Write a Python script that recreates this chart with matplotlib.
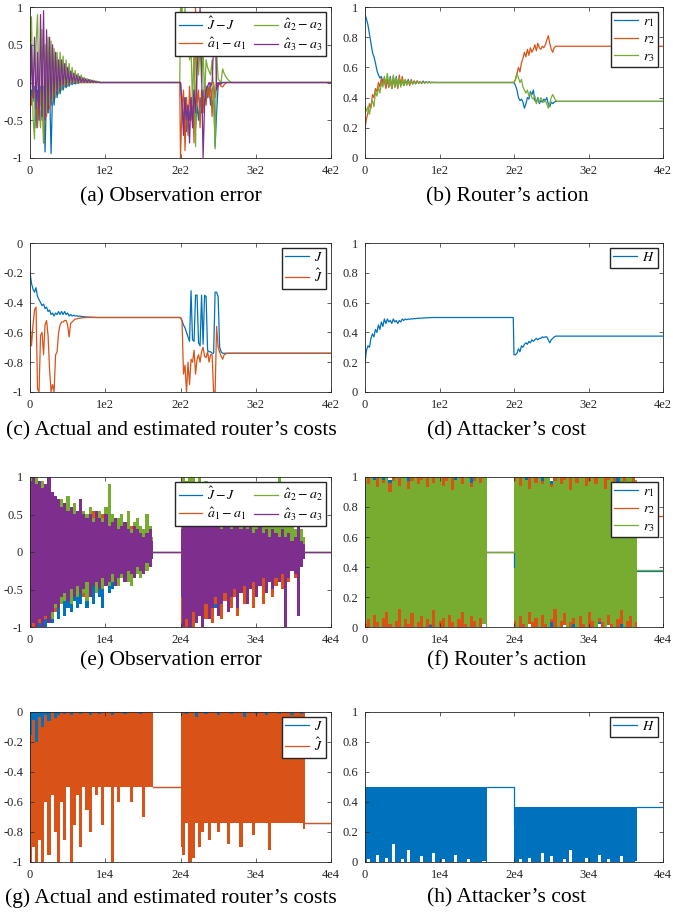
import numpy as np
import matplotlib
matplotlib.use('Agg')
import matplotlib.pyplot as plt

plt.rcParams['font.family'] = ['Liberation Serif', 'DejaVu Serif']
plt.rcParams['mathtext.fontset'] = 'stix'

C_BLUE = '#0072BD'
C_ORANGE = '#D95319'
C_GREEN = '#77AC30'
C_PURPLE = '#7E2F8E'

# ---------------- top panels (iterations 0..400) ----------------
T_A = np.arange(0, 100, 2)      # 50 samples
T_B = np.arange(200, 272, 2)    # 36 samples
X_TOP = np.concatenate([T_A, [100, 199], T_B, [272, 400]])

# (a) observation errors
aJ_1 = [-0.33,-0.10,-0.25,-0.05,-0.60,-0.10,-0.35,-0.05,-0.50,-0.05,
        -0.92,-0.10,-0.40,-0.05,-0.94,-0.10,-0.30,-0.05,-0.20,-0.03,
        -0.15,-0.02,-0.10,-0.02,-0.07,-0.01,-0.05,0.0,-0.03,0.0,
        -0.02,0.0,-0.01,0.0,0.0,0.0,0.0,0.0,0.0,0.0,
        0.0,0.0,0.0,0.0,0.0,0.0,0.0,0.0,0.0,0.0]
aJ_2 = [0.0,-0.30,-0.50,-0.20,-0.65,-0.30,-0.50,-0.20,-0.40,-0.10,
        -0.60,-0.30,-0.50,-0.20,-0.40,-0.10,-0.30,-0.05,-0.20,-0.05,
        -0.30,-0.10,-0.05,-0.85,-0.40,-0.05,0.0,-0.02,0.0,0.0,
        0.0,0.0,0.0,0.0,0.0,0.0]
a1_1 = [-0.05,-0.30,-0.10,-0.20,-0.05,-0.60,0.0,-0.30,-0.05,-0.80,
        0.0,-0.45,-0.05,-0.35,-0.05,-0.20,0.0,-0.10,0.0,-0.05,
        0.0,-0.03,0.0,-0.02,0.0,0.0,0.0,0.0,0.0,0.0,
        0.0,0.0,0.0,0.0,0.0,0.0,0.0,0.0,0.0,0.0,
        0.0,0.0,0.0,0.0,0.0,0.0,0.0,0.0,0.0,0.0]
a1_2 = [-1.00,-0.30,-0.10,-0.90,-0.20,-0.70,-0.05,-0.50,-0.15,-0.80,
        1.00,-0.30,-0.10,-0.60,-0.10,-0.40,0.0,-0.30,-0.05,-0.20,
        0.0,-0.45,0.0,-0.20,0.0,-0.05,0.0,-0.05,-0.06,-0.03,
        -0.01,0.0,0.0,0.0,0.0,0.0]
a2_1 = [0.35,0.87,-0.45,-0.75,0.50,0.90,-0.30,-0.60,0.70,-0.78,
        0.50,-0.40,0.60,-0.30,0.55,-0.25,0.45,-0.20,0.40,-0.15,
        0.40,-0.10,0.35,-0.05,0.30,-0.05,0.25,-0.02,0.20,0.0,
        0.16,0.0,0.12,0.0,0.10,0.0,0.07,0.0,0.05,0.0,
        0.04,0.0,0.03,0.0,0.02,0.0,0.01,0.0,0.0,0.0]
a2_2 = [1.00,1.00,0.45,1.00,0.45,0.90,0.30,0.45,-0.30,0.50,
        -0.85,0.45,0.10,0.50,0.0,0.45,-0.20,0.30,0.20,0.15,
        0.10,0.30,-0.20,-0.88,0.40,0.05,0.02,0.01,0.18,0.12,
        0.08,0.05,0.03,0.01,0.0,0.0]
a3_1 = [-0.55,0.50,-0.20,0.60,-0.35,0.40,-0.50,0.90,-0.45,0.95,
        -0.50,0.70,-0.40,0.60,-0.30,0.50,-0.20,0.40,-0.15,0.30,
        -0.10,0.30,-0.05,0.25,-0.05,0.20,-0.02,0.15,0.0,0.12,
        0.0,0.10,0.0,0.08,0.0,0.06,0.0,0.05,0.0,0.04,
        0.0,0.03,0.0,0.02,0.0,0.01,0.0,0.0,0.0,0.0]
a3_2 = [0.0,-0.30,-0.70,-0.20,-0.50,-0.30,-0.80,-0.20,-0.60,-0.10,
        -0.40,0.20,0.40,1.00,0.20,-1.00,-0.30,-0.10,-0.05,0.0,
        -0.05,0.0,0.50,0.90,-0.10,0.0,-0.02,0.0,0.0,0.0,
        0.0,0.0,0.0,0.0,0.0,0.0]

# (b) router's action
r1_1 = [0.95,0.92,0.88,0.82,0.76,0.70,0.67,0.63,0.58,0.55,
        0.53,0.54,0.50,0.53,0.47,0.52,0.47,0.54,0.46,0.53,
        0.47,0.54,0.47,0.52,0.48,0.52,0.48,0.51,0.49,0.52,
        0.49,0.51,0.49,0.51,0.49,0.51,0.495,0.505,0.495,0.51,
        0.495,0.505,0.498,0.505,0.498,0.502,0.499,0.501,0.5,0.5]
r1_2 = [0.5,0.48,0.45,0.40,0.38,0.39,0.37,0.33,0.36,0.40,
        0.39,0.44,0.42,0.45,0.38,0.37,0.40,0.36,0.38,0.37,
        0.39,0.38,0.40,0.36,0.34,0.37,0.36,0.37,0.375,0.375,
        0.375,0.375,0.375,0.375,0.375,0.375]
r2_1 = [0.20,0.26,0.30,0.36,0.33,0.42,0.40,0.46,0.44,0.50,
        0.47,0.53,0.49,0.52,0.46,0.53,0.47,0.52,0.46,0.54,
        0.47,0.52,0.46,0.55,0.48,0.54,0.48,0.52,0.49,0.51,
        0.48,0.52,0.49,0.51,0.495,0.51,0.495,0.505,0.495,0.505,
        0.498,0.503,0.498,0.502,0.499,0.501,0.5,0.5,0.5,0.5]
r2_2 = [0.5,0.52,0.56,0.60,0.57,0.63,0.66,0.70,0.67,0.72,
        0.68,0.73,0.70,0.72,0.75,0.71,0.76,0.73,0.72,0.74,
        0.73,0.75,0.78,0.81,0.76,0.72,0.70,0.73,0.74,0.74,
        0.74,0.74,0.74,0.74,0.74,0.74]
r3_1 = [0.34,0.31,0.34,0.29,0.35,0.38,0.34,0.44,0.41,0.47,
        0.43,0.50,0.47,0.54,0.49,0.56,0.48,0.53,0.46,0.55,
        0.47,0.53,0.47,0.53,0.47,0.52,0.48,0.52,0.48,0.51,
        0.49,0.51,0.49,0.505,0.495,0.505,0.497,0.503,0.498,0.502,
        0.499,0.501,0.5,0.5,0.5,0.5,0.5,0.5,0.5,0.5]
r3_2 = [0.5,0.52,0.56,0.53,0.50,0.52,0.47,0.45,0.43,0.45,
        0.41,0.43,0.40,0.39,0.41,0.36,0.39,0.37,0.40,0.38,
        0.37,0.38,0.36,0.33,0.36,0.40,0.42,0.40,0.38,0.375,
        0.375,0.375,0.375,0.375,0.375,0.375]

# (c) actual and estimated router's cost
J_1 = [-0.20,-0.27,-0.31,-0.33,-0.30,-0.36,-0.38,-0.40,-0.42,-0.41,
       -0.44,-0.43,-0.46,-0.45,-0.48,-0.47,-0.49,-0.47,-0.48,-0.46,
       -0.48,-0.46,-0.48,-0.46,-0.48,-0.47,-0.49,-0.48,-0.49,-0.485,
       -0.49,-0.488,-0.492,-0.49,-0.493,-0.494,-0.495,-0.496,-0.497,-0.497,
       -0.498,-0.498,-0.499,-0.499,-0.5,-0.5,-0.5,-0.5,-0.5,-0.5]
J_2 = [-0.50,-0.52,-0.55,-0.57,-0.60,-0.63,-0.66,-0.32,-0.65,-0.66,
       -0.35,-0.35,-0.67,-0.69,-0.35,-0.68,-0.35,-0.36,-0.72,-0.73,
       -0.73,-0.74,-0.74,-0.33,-0.33,-0.36,-0.70,-0.73,-0.74,-0.74,
       -0.74,-0.74,-0.74,-0.74,-0.74,-0.74]
Jh_1 = [-0.53,-0.69,-0.55,-0.45,-0.43,-0.98,-1.00,-0.62,-0.60,-0.75,
        -0.55,-0.52,-0.62,-0.85,-1.00,-0.95,-1.00,-0.75,-0.73,-0.60,
        -0.55,-0.53,-0.53,-0.52,-0.52,-0.55,-0.63,-0.54,-0.53,-0.52,
        -0.51,-0.51,-0.505,-0.505,-0.503,-0.502,-0.501,-0.5,-0.5,-0.5,
        -0.5,-0.5,-0.5,-0.5,-0.5,-0.5,-0.5,-0.5,-0.5,-0.5]
Jh_2 = [-0.50,-0.52,-0.88,-0.82,-1.00,-0.80,-0.95,-0.78,-0.80,-0.72,
        -0.88,-0.78,-0.75,-0.80,-0.73,-0.70,-0.76,-0.77,-0.73,-0.80,
        -0.75,-0.75,-1.00,-1.00,-0.56,-0.70,-0.73,-0.76,-0.78,-0.75,
        -0.745,-0.74,-0.74,-0.74,-0.74,-0.74]

# (d) attacker's cost
H_1 = [0.20,0.28,0.31,0.30,0.36,0.39,0.37,0.42,0.40,0.45,
       0.42,0.47,0.44,0.49,0.46,0.49,0.47,0.48,0.46,0.49,
       0.47,0.48,0.46,0.48,0.47,0.49,0.48,0.49,0.485,0.49,
       0.488,0.492,0.49,0.493,0.492,0.495,0.494,0.496,0.495,0.497,
       0.497,0.498,0.498,0.499,0.499,0.5,0.5,0.5,0.5,0.5]
H_2 = [0.25,0.25,0.26,0.29,0.27,0.31,0.30,0.32,0.33,0.32,
       0.34,0.33,0.35,0.34,0.35,0.36,0.35,0.36,0.36,0.37,
       0.365,0.37,0.37,0.35,0.33,0.35,0.36,0.37,0.375,0.375,
       0.375,0.375,0.375,0.375,0.375,0.375]

# ---------------- bottom panels (iterations 0..40000) ----------------
# dense oscillation shown as per-bin min/max envelopes (40 bins per active segment)
X1 = np.linspace(0, 16400, 40)
X2 = np.linspace(20000, 36500, 40)

# (e) observation errors: (lo, hi) envelopes
eJ_lo1 = [-0.80,-1.00,-0.95,-1.00,-0.90,-1.00,-0.85,-0.95,-0.80,-0.90,
          -0.70,-0.85,-0.75,-0.80,-0.65,-0.75,-0.70,-0.60,-0.75,-0.55,
          -0.70,-0.50,-0.60,-0.75,-0.45,-0.55,-0.50,-0.40,-0.45,-0.35,
          -0.40,-0.30,-0.35,-0.25,-0.30,-0.20,-0.25,-0.15,-0.10,-0.05]
eJ_hi1 = [0.90,0.50,0.30,0.20,0.15,0.10,0.05,0.05,0.02,0.00,
          0.00,0.00,0.00,0.00,0.00,0.00,0.00,0.00,0.00,0.00,
          0.00,0.00,0.00,0.00,0.00,0.00,0.00,0.00,0.00,0.00,
          0.00,0.00,0.00,0.00,0.00,0.00,0.00,0.00,0.00,0.00]
eJ_lo2 = [-0.90,-0.80,-0.95,-0.70,-0.85,-0.75,-0.60,-0.80,-0.65,-0.70,
          -0.55,-0.75,-0.60,-0.50,-0.65,-0.55,-0.45,-0.60,-0.50,-0.40,
          -0.55,-0.45,-0.35,-0.50,-0.40,-0.30,-0.45,-0.35,-0.25,-0.40,
          -0.30,-0.20,-0.35,-0.25,-0.15,-0.20,-0.10,-0.15,-0.05,-0.05]
eJ_hi2 = 0.0
e1_lo1 = [-0.90,-1.00,-0.80,-0.95,-0.85,-0.90,-0.70,-0.75,-0.80,-0.60,
          -0.70,-0.55,-0.65,-0.60,-0.50,-0.55,-0.45,-0.60,-0.40,-0.50,
          -0.45,-0.40,-0.35,-0.45,-0.30,-0.40,-0.35,-0.25,-0.30,-0.35,
          -0.20,-0.30,-0.25,-0.20,-0.15,-0.25,-0.20,-0.10,-0.15,-0.05]
e1_hi1 = [0.90,0.95,0.85,0.80,0.90,0.75,0.70,0.65,0.70,0.60,
          0.55,0.65,0.50,0.60,0.45,0.55,0.60,0.45,0.50,0.40,
          0.55,0.45,0.40,0.50,0.35,0.45,0.40,0.30,0.35,0.40,
          0.30,0.25,0.35,0.30,0.20,0.25,0.30,0.15,0.20,0.10]
e1_lo2 = [-1.00,-0.90,-1.00,-0.85,-1.00,-0.95,-0.80,-1.00,-0.90,-0.75,
          -0.95,-0.70,-0.85,-0.90,-0.65,-0.80,-0.75,-0.60,-0.85,-0.55,
          -0.70,-0.65,-0.50,-0.75,-0.60,-0.45,-0.70,-0.50,-0.40,-0.60,
          -0.45,-0.35,-0.50,-0.30,-0.40,-0.25,-0.35,-0.20,-0.15,-0.10]
e1_hi2 = [0.30,0.40,0.35,0.50,0.40,0.35,0.45,0.30,0.40,0.35,
          0.30,0.40,0.25,0.35,0.30,0.25,0.35,0.20,0.30,0.25,
          0.20,0.30,0.25,0.20,0.25,0.15,0.20,0.25,0.15,0.20,
          0.15,0.10,0.20,0.15,0.10,0.15,0.10,0.05,0.10,0.05]
e2_lo1 = [-0.60,-0.90,-1.00,-0.80,-0.95,-0.85,-0.70,-0.90,-0.75,-0.60,
          -0.70,-0.65,-0.55,-0.70,-0.50,-0.60,-0.45,-0.55,-0.65,-0.50,
          -0.40,-0.55,-0.45,-0.50,-0.35,-0.45,-0.40,-0.30,-0.45,-0.35,
          -0.30,-0.40,-0.45,-0.25,-0.30,-0.35,-0.20,-0.25,-0.15,-0.10]
e2_hi1 = [1.00,0.95,1.00,0.90,0.95,0.80,0.85,0.70,0.75,0.65,
          0.70,0.60,0.75,0.55,0.65,0.50,0.60,0.55,0.50,0.60,
          0.45,0.50,0.55,0.45,0.60,0.90,0.50,0.40,0.45,0.50,
          0.35,0.55,0.30,0.40,0.45,0.35,0.30,0.50,0.35,0.20]
e2_lo2 = [-0.30,-0.50,-0.40,-0.60,-0.45,-0.50,-0.35,-0.55,-0.40,-0.45,
          -0.50,-0.35,-0.40,-0.45,-0.30,-0.40,-0.35,-0.30,-0.40,-0.25,
          -0.35,-0.30,-0.25,-0.35,-0.20,-0.30,-0.25,-0.20,-0.30,-0.15,
          -0.25,-0.20,-0.15,-0.20,-0.10,-0.15,-0.10,-0.05,-0.10,-0.05]
e2_hi2 = [1.00,1.00,0.95,1.00,1.00,0.90,1.00,0.80,0.95,0.85,
          0.75,0.90,0.70,0.80,0.65,0.75,0.60,0.70,0.65,0.55,
          0.70,0.60,0.50,0.65,0.55,0.60,0.45,0.55,0.50,0.40,
          0.50,1.00,0.45,0.40,0.35,0.45,0.30,0.25,0.30,0.20]
e3_lo1 = [-1.00,-0.95,-1.00,-0.90,-1.00,-0.85,-0.95,-0.80,-0.70,-0.75,
          -0.60,-0.55,-0.65,-0.50,-0.60,-0.45,-0.55,-0.50,-0.40,-0.60,
          -0.45,-0.40,-0.50,-0.35,-0.45,-0.40,-0.30,-0.45,-0.35,-0.30,
          -0.40,-0.25,-0.30,-0.35,-0.20,-0.25,-0.30,-0.15,-0.20,-0.10]
e3_hi1 = [0.95,1.00,0.90,0.95,0.85,0.90,1.00,0.80,0.75,0.70,
          0.60,0.65,0.55,0.60,0.50,0.55,0.70,0.50,0.45,0.50,
          0.40,0.55,0.45,0.40,0.50,0.35,0.40,0.45,0.30,0.35,
          0.40,0.30,0.25,0.35,0.30,0.25,0.20,0.25,0.30,0.15]
e3_lo2 = [-0.60,-1.00,-0.90,-1.00,-0.80,-0.95,-0.85,-1.00,-0.70,-0.90,
          -0.75,-0.60,-0.85,-0.70,-0.55,-0.80,-0.60,-0.50,-0.75,-0.55,
          -0.45,-0.70,-0.50,-0.40,-0.60,-0.45,-0.35,-0.55,-0.40,-0.50,
          -0.35,-0.40,-0.30,-1.00,-0.35,-0.25,-0.30,-0.85,-0.20,-0.10]
e3_hi2 = [0.30,0.50,0.40,0.55,0.45,0.50,0.40,0.45,0.35,0.50,
          0.40,0.35,0.45,0.30,0.40,0.35,0.30,0.45,0.35,0.30,
          0.40,0.30,0.35,0.25,0.30,0.35,0.25,0.30,0.20,0.30,
          0.25,0.20,0.30,0.20,0.25,0.15,0.20,0.90,0.15,0.10]

# (f) router's action envelopes
fr1_lo1 = [0.00,0.03,0.00,0.00,0.02,0.00,0.05,0.00,0.00,0.04,
           0.00,0.00,0.03,0.00,0.06,0.00,0.00,0.02,0.00,0.00,
           0.04,0.00,0.00,0.03,0.00,0.00,0.05,0.00,0.00,0.02,
           0.00,0.00,0.04,0.00,0.00,0.03,0.00,0.00,0.05,0.00]
fr1_hi1 = [1.00,1.00,0.97,1.00,0.99,0.95,1.00,1.00,0.98,0.96,
           1.00,0.97,1.00,0.99,1.00,0.95,0.98,1.00,0.96,1.00,
           1.00,0.98,0.97,1.00,0.99,1.00,0.96,0.98,1.00,1.00,
           0.97,1.00,0.99,0.96,1.00,0.98,1.00,0.97,1.00,0.99]
fr1_lo2 = [0.00,0.00,0.04,0.00,0.00,0.02,0.00,0.06,0.00,0.00,
           0.03,0.00,0.00,0.05,0.00,0.00,0.02,0.00,0.04,0.00,
           0.00,0.03,0.00,0.00,0.06,0.00,0.00,0.02,0.00,0.00,
           0.05,0.00,0.00,0.03,0.00,0.00,0.04,0.00,0.00,0.02]
fr1_hi2 = [0.99,1.00,0.96,1.00,1.00,0.97,0.99,1.00,0.95,1.00,
           0.98,1.00,0.97,1.00,0.99,0.96,1.00,1.00,0.98,0.97,
           1.00,0.99,1.00,0.96,1.00,0.98,1.00,0.97,0.99,1.00,
           0.96,1.00,0.98,1.00,0.97,1.00,0.99,0.95,1.00,0.98]
fr2_lo1 = [0.00,0.00,0.02,0.00,0.00,0.01,0.00,0.00,0.00,0.03,
           0.00,0.00,0.01,0.00,0.00,0.00,0.02,0.00,0.00,0.00,
           0.00,0.01,0.00,0.00,0.00,0.00,0.02,0.00,0.00,0.00,
           0.00,0.00,0.00,0.01,0.00,0.00,0.00,0.00,0.02,0.00]
fr2_hi1 = [0.97,1.00,1.00,0.95,1.00,1.00,0.98,1.00,0.96,1.00,
           1.00,0.99,1.00,1.00,0.97,1.00,0.95,1.00,1.00,0.98,
           1.00,0.97,1.00,1.00,0.96,1.00,1.00,0.99,1.00,0.97,
           1.00,1.00,0.98,1.00,0.96,1.00,1.00,0.99,1.00,1.00]
fr2_lo2 = [0.00,0.01,0.00,0.00,0.00,0.02,0.00,0.00,0.01,0.00,
           0.00,0.00,0.03,0.00,0.00,0.00,0.01,0.00,0.00,0.02,
           0.00,0.00,0.00,0.01,0.00,0.00,0.00,0.03,0.00,0.00,
           0.01,0.00,0.00,0.00,0.02,0.00,0.00,0.00,0.01,0.00]
fr2_hi2 = [1.00,0.98,1.00,1.00,0.96,1.00,1.00,0.99,1.00,0.97,
           1.00,1.00,0.95,1.00,0.98,1.00,1.00,0.97,1.00,1.00,
           0.99,1.00,0.96,1.00,1.00,0.98,1.00,1.00,0.97,1.00,
           1.00,0.99,1.00,0.96,1.00,1.00,0.98,1.00,1.00,0.97]
fr3_lo1 = [0.02,0.05,0.00,0.08,0.03,0.00,0.06,0.10,0.02,0.00,
           0.04,0.12,0.00,0.05,0.02,0.09,0.00,0.03,0.07,0.00,
           0.05,0.02,0.11,0.00,0.04,0.06,0.00,0.08,0.03,0.00,
           0.05,0.10,0.02,0.00,0.07,0.04,0.00,0.06,0.02,0.00]
fr3_hi1 = [1.00,0.95,1.00,0.98,0.93,1.00,0.96,1.00,0.90,0.97,
           1.00,0.94,0.99,1.00,0.92,0.97,1.00,0.95,0.98,1.00,
           0.93,1.00,0.96,0.99,1.00,0.94,0.97,1.00,0.91,0.98,
           1.00,0.95,0.99,1.00,0.93,0.97,1.00,0.96,0.99,1.00]
fr3_lo2 = [0.04,0.00,0.07,0.02,0.00,0.10,0.03,0.06,0.00,0.08,
           0.02,0.00,0.05,0.12,0.00,0.04,0.09,0.00,0.03,0.06,
           0.00,0.07,0.02,0.00,0.10,0.04,0.00,0.06,0.03,0.00,
           0.08,0.02,0.00,0.05,0.11,0.00,0.04,0.07,0.00,0.03]
fr3_hi2 = [0.97,1.00,0.94,1.00,0.98,0.92,1.00,0.96,1.00,0.95,
           0.99,1.00,0.93,0.97,1.00,0.95,0.98,1.00,0.91,1.00,
           0.96,0.99,1.00,0.94,0.97,1.00,0.95,0.99,1.00,0.92,
           0.98,1.00,0.96,0.94,1.00,0.97,0.99,1.00,0.95,0.98]

# (g) actual / estimated router's cost envelopes
gJ_lo1, gJ_hi1 = -0.45, 0.0
gJ_lo2, gJ_hi2 = -0.70, 0.0
gJh_lo1 = [-1.00,-0.90,-1.00,-0.85,-1.00,-0.60,-0.95,-0.55,-0.80,-1.00,
           -0.60,-0.85,-0.50,-1.00,-0.75,-0.55,-0.90,-0.50,-0.65,-0.80,
           -0.50,-0.55,-0.50,-0.75,-0.50,-0.50,-1.00,-0.50,-0.60,-0.50,
           -0.50,-0.50,-0.60,-0.50,-0.50,-0.50,-0.70,-0.50,-0.50,-0.50]
gJh_hi1 = [-0.15,-0.05,-0.20,-0.03,-0.10,-0.02,-0.06,0.00,-0.04,-0.02,
           0.00,-0.01,0.00,-0.02,0.00,0.00,-0.01,0.00,0.00,-0.02,
           0.00,0.00,-0.01,0.00,0.00,0.00,-0.02,0.00,0.00,0.00,
           -0.01,0.00,0.00,0.00,0.00,-0.01,0.00,0.00,0.00,0.00]
gJh_lo2 = [-0.90,-0.95,-0.74,-1.00,-0.97,-0.74,-0.90,-0.80,-0.74,-0.85,
           -0.74,-0.74,-0.80,-0.74,-0.74,-0.88,-0.74,-0.74,-0.74,-0.90,
           -0.74,-0.74,-0.74,-0.82,-0.74,-0.74,-0.74,-0.74,-0.92,-0.74,
           -0.74,-0.74,-0.74,-0.74,-0.74,-0.74,-0.74,-0.74,-0.74,-0.78]
gJh_hi2 = [-0.02,0.00,-0.01,0.00,0.00,-0.03,0.00,0.00,-0.01,0.00,
           0.00,0.00,-0.02,0.00,0.00,0.00,-0.01,0.00,0.00,0.00,
           -0.03,0.00,0.00,0.00,-0.01,0.00,0.00,-0.02,0.00,0.00,
           0.00,-0.01,0.00,0.00,0.00,-0.02,0.00,0.00,-0.01,0.00]

# (h) attacker's cost envelopes
hH_lo1 = [0.00,0.02,0.00,0.00,0.05,0.00,0.00,0.03,0.00,0.12,
          0.00,0.00,0.02,0.00,0.08,0.00,0.00,0.00,0.04,0.00,
          0.00,0.00,0.06,0.00,0.00,0.02,0.00,0.00,0.00,0.05,
          0.00,0.00,0.00,0.02,0.00,0.00,0.00,0.00,0.01,0.00]
hH_hi1 = 0.50
hH_lo2 = [0.00,0.00,0.02,0.00,0.00,0.03,0.00,0.00,0.00,0.06,
          0.00,0.00,0.04,0.00,0.00,0.00,0.02,0.00,0.08,0.00,
          0.00,0.00,0.00,0.03,0.00,0.00,0.00,0.05,0.00,0.00,
          0.02,0.00,0.00,0.00,0.04,0.00,0.00,0.00,0.00,0.01]
hH_hi2 = 0.37

# holds (value between segments, value after second segment, value at start of 2nd segment)
E_HOLD = (0.0, 0.0, 0.0)
F_HOLD = {'r1': (0.5, 0.375, 0.40), 'r2': (0.5, 0.74, 0.5), 'r3': (0.5, 0.38, 0.5)}
G_HOLD = {'J': (-0.5, -0.74, -0.5), 'Jh': (-0.5, -0.74, -0.5)}
H_HOLD = (0.5, 0.37, 0.25)

TOP_XTICKS = [0, 100, 200, 300, 400]
TOP_XLABELS = ['0', '1e2', '2e2', '3e2', '4e2']
BOT_XTICKS = [0, 10000, 20000, 30000, 40000]
BOT_XLABELS = ['0', '1e4', '2e4', '3e4', '4e4']
ERR_YTICKS = [-1, -0.5, 0, 0.5, 1]
ERR_YLABELS = ['-1', '-0.5', '0', '0.5', '1']
POS_YTICKS = [0, 0.2, 0.4, 0.6, 0.8, 1]
POS_YLABELS = ['0', '0.2', '0.4', '0.6', '0.8', '1']
NEG_YTICKS = [-1, -0.8, -0.6, -0.4, -0.2, 0]
NEG_YLABELS = ['-1', '-0.8', '-0.6', '-0.4', '-0.2', '0']

CAPTIONS = ['(a) Observation error', '(b) Router\u2019s action',
            '(c) Actual and estimated router\u2019s costs', '(d) Attacker\u2019s cost',
            '(e) Observation error', '(f) Router\u2019s action',
            '(g) Actual and estimated router\u2019s costs', '(h) Attacker\u2019s cost']


def top(s1, h1, s2, h2):
    return np.concatenate([s1, [h1, h1], s2, [h2, h2]])


W, Hpx = 673, 916
fig = plt.figure(figsize=(W / 100, Hpx / 100), dpi=100)
GRAY = '#262626'


def make_ax(l, t, r, b):
    return fig.add_axes([l / W, 1 - b / Hpx, (r - l) / W, (b - t) / Hpx])


def style(ax, xlim, xt, xl, ylim, yt, yl):
    ax.set_xlim(*xlim)
    ax.set_ylim(*ylim)
    ax.set_xticks(xt)
    ax.set_xticklabels(xl)
    ax.set_yticks(yt)
    ax.set_yticklabels(yl)
    ax.tick_params(direction='in', top=True, right=True, length=3, width=0.5,
                   colors=GRAY, labelsize=9)
    ax.tick_params(axis='y', pad=5)
    ax.tick_params(axis='x', pad=5)
    for s in ax.spines.values():
        s.set_linewidth(0.6)
        s.set_color(GRAY)


def legend(ax, ncol=1):
    lg = ax.legend(loc='upper right', ncol=ncol, fontsize=10, frameon=True,
                   fancybox=False, edgecolor=GRAY, framealpha=1,
                   borderaxespad=0.35, handlelength=1.7, handletextpad=0.35,
                   columnspacing=0.6, borderpad=0.25, labelspacing=0.25)
    lg.get_frame().set_linewidth(1.0)
    return lg


def band(ax, lo1, hi1, lo2, hi2, hold, color, label):
    h1, h2, s2 = hold
    ax.fill_between(X1, lo1, hi1, step='mid', color=color, lw=0)
    ax.fill_between(X2, lo2, hi2, step='mid', color=color, lw=0)
    ax.plot([X1[-1], X2[0], X2[0]], [h1, h1, s2], color=color, lw=0.9)
    ax.plot([X2[-1], 40000], [h2, h2], color=color, lw=0.9, label=label)


LW = 0.9
LEFT_COL = (30, 331)
RIGHT_COL = (365, 663)
ROWS = [(7, 158), (243, 392), (477, 627), (712, 862)]

# (a)
ax = make_ax(LEFT_COL[0], ROWS[0][0], LEFT_COL[1], ROWS[0][1])
ax.plot(X_TOP, top(aJ_1, 0, aJ_2, 0), color=C_BLUE, lw=LW, label=r'$\hat{J}-J$')
ax.plot(X_TOP, top(a1_1, 0, a1_2, 0), color=C_ORANGE, lw=LW, label=r'$\hat{a}_1-a_1$')
ax.plot(X_TOP, top(a2_1, 0, a2_2, 0), color=C_GREEN, lw=LW, label=r'$\hat{a}_2-a_2$')
ax.plot(X_TOP, top(a3_1, 0, a3_2, 0), color=C_PURPLE, lw=LW, label=r'$\hat{a}_3-a_3$')
style(ax, (0, 400), TOP_XTICKS, TOP_XLABELS, (-1, 1), ERR_YTICKS, ERR_YLABELS)
legend(ax, ncol=2)

# (b)
ax = make_ax(RIGHT_COL[0], ROWS[0][0], RIGHT_COL[1], ROWS[0][1])
ax.plot(X_TOP, top(r1_1, 0.5, r1_2, 0.375), color=C_BLUE, lw=LW, label=r'$r_1$')
ax.plot(X_TOP, top(r2_1, 0.5, r2_2, 0.74), color=C_ORANGE, lw=LW, label=r'$r_2$')
ax.plot(X_TOP, top(r3_1, 0.5, r3_2, 0.375), color=C_GREEN, lw=LW, label=r'$r_3$')
style(ax, (0, 400), TOP_XTICKS, TOP_XLABELS, (0, 1), POS_YTICKS, POS_YLABELS)
legend(ax)

# (c)
ax = make_ax(LEFT_COL[0], ROWS[1][0], LEFT_COL[1], ROWS[1][1])
ax.plot(X_TOP, top(J_1, -0.5, J_2, -0.74), color=C_BLUE, lw=LW, label=r'$J$')
ax.plot(X_TOP, top(Jh_1, -0.5, Jh_2, -0.74), color=C_ORANGE, lw=LW, label=r'$\hat{J}$')
style(ax, (0, 400), TOP_XTICKS, TOP_XLABELS, (-1, 0), NEG_YTICKS, NEG_YLABELS)
legend(ax)

# (d)
ax = make_ax(RIGHT_COL[0], ROWS[1][0], RIGHT_COL[1], ROWS[1][1])
ax.plot(X_TOP, top(H_1, 0.5, H_2, 0.375), color=C_BLUE, lw=LW, label=r'$H$')
style(ax, (0, 400), TOP_XTICKS, TOP_XLABELS, (0, 1), POS_YTICKS, POS_YLABELS)
legend(ax)

# (e)
ax = make_ax(LEFT_COL[0], ROWS[2][0], LEFT_COL[1], ROWS[2][1])
band(ax, eJ_lo1, eJ_hi1, eJ_lo2, eJ_hi2, E_HOLD, C_BLUE, r'$\hat{J}-J$')
band(ax, e1_lo1, e1_hi1, e1_lo2, e1_hi2, E_HOLD, C_ORANGE, r'$\hat{a}_1-a_1$')
band(ax, e2_lo1, e2_hi1, e2_lo2, e2_hi2, E_HOLD, C_GREEN, r'$\hat{a}_2-a_2$')
band(ax, e3_lo1, e3_hi1, e3_lo2, e3_hi2, E_HOLD, C_PURPLE, r'$\hat{a}_3-a_3$')
style(ax, (0, 40000), BOT_XTICKS, BOT_XLABELS, (-1, 1), ERR_YTICKS, ERR_YLABELS)
legend(ax, ncol=2)

# (f)
ax = make_ax(RIGHT_COL[0], ROWS[2][0], RIGHT_COL[1], ROWS[2][1])
band(ax, fr1_lo1, fr1_hi1, fr1_lo2, fr1_hi2, F_HOLD['r1'], C_BLUE, r'$r_1$')
band(ax, fr2_lo1, fr2_hi1, fr2_lo2, fr2_hi2, F_HOLD['r2'], C_ORANGE, r'$r_2$')
band(ax, fr3_lo1, fr3_hi1, fr3_lo2, fr3_hi2, F_HOLD['r3'], C_GREEN, r'$r_3$')
style(ax, (0, 40000), BOT_XTICKS, BOT_XLABELS, (0, 1), POS_YTICKS, POS_YLABELS)
legend(ax)

# (g)
ax = make_ax(LEFT_COL[0], ROWS[3][0], LEFT_COL[1], ROWS[3][1])
band(ax, gJ_lo1, gJ_hi1, gJ_lo2, gJ_hi2, G_HOLD['J'], C_BLUE, r'$J$')
band(ax, gJh_lo1, gJh_hi1, gJh_lo2, gJh_hi2, G_HOLD['Jh'], C_ORANGE, r'$\hat{J}$')
style(ax, (0, 40000), BOT_XTICKS, BOT_XLABELS, (-1, 0), NEG_YTICKS, NEG_YLABELS)
legend(ax)

# (h)
ax = make_ax(RIGHT_COL[0], ROWS[3][0], RIGHT_COL[1], ROWS[3][1])
band(ax, hH_lo1, hH_hi1, hH_lo2, hH_hi2, H_HOLD, C_BLUE, r'$H$')
style(ax, (0, 40000), BOT_XTICKS, BOT_XLABELS, (0, 1), POS_YTICKS, POS_YLABELS)
legend(ax)

CAP_Y = [197, 431, 661, 898]
CAP_X = [171, 507]
for i, cap in enumerate(CAPTIONS):
    fig.text(CAP_X[i % 2] / W, 1 - CAP_Y[i // 2] / Hpx, cap, ha='center', va='center',
             fontsize=15.5, color='black')

fig.savefig('out.png', dpi=100)
